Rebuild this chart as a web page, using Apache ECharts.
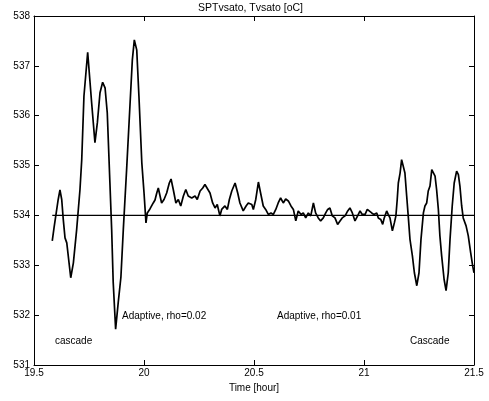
<!DOCTYPE html>
<html><head><meta charset="utf-8">
<script src="https://cdn.jsdelivr.net/npm/echarts@6/dist/echarts.min.js"></script>
<style>html,body{margin:0;padding:0;background:#fff}#c{width:489px;height:401px}</style>
</head><body><div id="c"></div>
<script>
const timeHours = [19.583,19.591,19.600,19.610,19.618,19.626,19.633,19.641,19.649,19.667,19.679,19.694,19.709,19.717,19.727,19.744,19.762,19.777,19.788,19.800,19.812,19.823,19.833,19.845,19.853,19.860,19.871,19.883,19.895,19.906,19.921,19.936,19.947,19.956,19.967,19.977,19.990,20.000,20.009,20.015,20.027,20.042,20.050,20.058,20.065,20.073,20.080,20.091,20.103,20.115,20.123,20.133,20.145,20.156,20.167,20.179,20.190,20.201,20.217,20.232,20.242,20.255,20.267,20.277,20.285,20.300,20.312,20.323,20.333,20.345,20.353,20.368,20.379,20.388,20.399,20.414,20.426,20.436,20.451,20.464,20.474,20.490,20.497,20.508,20.520,20.530,20.542,20.553,20.565,20.577,20.588,20.599,20.610,20.621,20.633,20.644,20.656,20.668,20.679,20.690,20.701,20.714,20.724,20.735,20.747,20.758,20.770,20.780,20.792,20.803,20.815,20.826,20.835,20.845,20.856,20.868,20.880,20.891,20.901,20.914,20.926,20.936,20.947,20.959,20.971,20.982,20.992,21.005,21.015,21.024,21.035,21.045,21.058,21.065,21.076,21.085,21.092,21.103,21.110,21.118,21.129,21.138,21.145,21.151,21.156,21.164,21.171,21.179,21.186,21.194,21.201,21.209,21.220,21.229,21.240,21.250,21.259,21.270,21.277,21.285,21.292,21.300,21.308,21.315,21.323,21.330,21.338,21.345,21.353,21.364,21.373,21.383,21.391,21.401,21.410,21.421,21.429,21.436,21.444,21.451,21.464,21.474,21.485,21.494,21.500];
const tempValues = [533.49,533.75,533.79,534.32,534.51,534.32,533.92,533.55,533.45,532.75,533.05,533.72,534.52,535.12,536.39,537.27,536.26,535.46,535.86,536.46,536.67,536.56,536.06,534.66,533.72,532.66,531.72,532.26,532.76,533.72,534.92,536.19,537.12,537.52,537.32,536.39,535.06,534.46,533.85,534.05,534.13,534.25,534.31,534.45,534.55,534.39,534.25,534.32,534.45,534.65,534.73,534.52,534.25,534.32,534.19,534.39,534.52,534.39,534.35,534.39,534.32,534.49,534.55,534.62,534.59,534.45,534.25,534.15,534.22,533.99,534.12,534.19,534.12,534.32,534.49,534.65,534.45,534.25,534.09,534.19,534.25,534.22,534.12,534.32,534.67,534.45,534.19,534.12,534.02,534.05,534.02,534.12,534.25,534.35,534.25,534.33,534.29,534.19,534.12,533.89,534.09,534.02,534.05,533.95,534.05,533.99,534.25,534.05,533.95,533.89,533.95,534.05,534.12,534.15,533.99,533.95,533.82,533.89,533.95,533.99,534.09,534.15,534.05,533.89,533.99,534.09,534.02,534.02,534.12,534.15,534.05,534.02,534.05,533.95,533.92,533.82,533.95,534.09,534.02,533.95,533.69,533.85,533.99,534.32,534.65,534.85,535.12,535.11,534.85,534.39,533.99,533.52,533.19,532.85,532.59,532.85,533.52,534.05,534.19,534.25,534.49,534.59,534.92,534.89,534.79,534.52,534.12,533.59,533.19,532.72,532.49,532.85,533.52,534.19,534.65,534.89,534.82,534.59,534.19,533.95,533.79,533.59,533.25,532.99,532.85];
const setpointTime = [19.583, 21.5];
const setpointValue = [534, 534];
const annotations = ['cascade', 'Adaptive, rho=0.02', 'Adaptive, rho=0.01', 'Cascade'];
const titleText = 'SPTvsato, Tvsato [oC]';
const xName = 'Time [hour]';

const FONT = 'Liberation Sans, Arial, Helvetica, sans-serif';
const chart = echarts.init(document.getElementById('c'), null, {renderer: 'canvas'});
const zip = (a, b) => a.map((v, i) => [v, b[i]]);
const axisCommon = {
  type: 'value',
  axisLine: {show: true, onZero: false, lineStyle: {color: '#000', width: 1}},
  axisTick: {show: true, inside: true, length: 5, lineStyle: {color: '#000'}},
  splitLine: {show: false},
};
const xBase = Object.assign({}, axisCommon, {min: 19.5, max: 21.5, interval: 0.5});
const yBase = Object.assign({}, axisCommon, {min: 531, max: 538, interval: 1});
chart.setOption({
  animation: false,
  backgroundColor: '#fff',
  grid: {left: 34, right: 15, top: 16, bottom: 36, containLabel: false},
  xAxis: [
    Object.assign({}, xBase, {position: 'bottom', name: xName, nameLocation: 'middle', nameGap: 16,
      nameTextStyle: {fontFamily: FONT, fontSize: 10, color: '#000'},
      axisLabel: {show: true, margin: 3, fontFamily: FONT, fontSize: 10, color: '#000'}}),
    Object.assign({}, xBase, {position: 'top', axisLabel: {show: false}})
  ],
  yAxis: [
    Object.assign({}, yBase, {position: 'left',
      axisLabel: {show: true, margin: 4, fontFamily: FONT, fontSize: 10, color: '#000'}}),
    Object.assign({}, yBase, {position: 'right', axisLabel: {show: false}})
  ],
  graphic: [
    {type: 'text', left: 198, top: 3, style: {text: titleText, font: '10.5px ' + FONT, fill: '#000'}},
    {type: 'text', x: 55, y: 341, style: {text: annotations[0], font: '10px ' + FONT, fill: '#000', verticalAlign: 'middle'}},
    {type: 'text', x: 122, y: 316, style: {text: annotations[1], font: '10px ' + FONT, fill: '#000', verticalAlign: 'middle'}},
    {type: 'text', x: 277, y: 316, style: {text: annotations[2], font: '10px ' + FONT, fill: '#000', verticalAlign: 'middle'}},
    {type: 'text', x: 410, y: 341, style: {text: annotations[3], font: '10px ' + FONT, fill: '#000', verticalAlign: 'middle'}}
  ],
  series: [
    {type: 'line', data: zip(setpointTime, setpointValue), showSymbol: false, silent: true,
      lineStyle: {color: '#000', width: 1.2}},
    {type: 'line', data: zip(timeHours, tempValues), showSymbol: false, silent: true,
      lineStyle: {color: '#000', width: 1.7}, lineJoin: 'round'}
  ]
});
</script>
</body></html>
